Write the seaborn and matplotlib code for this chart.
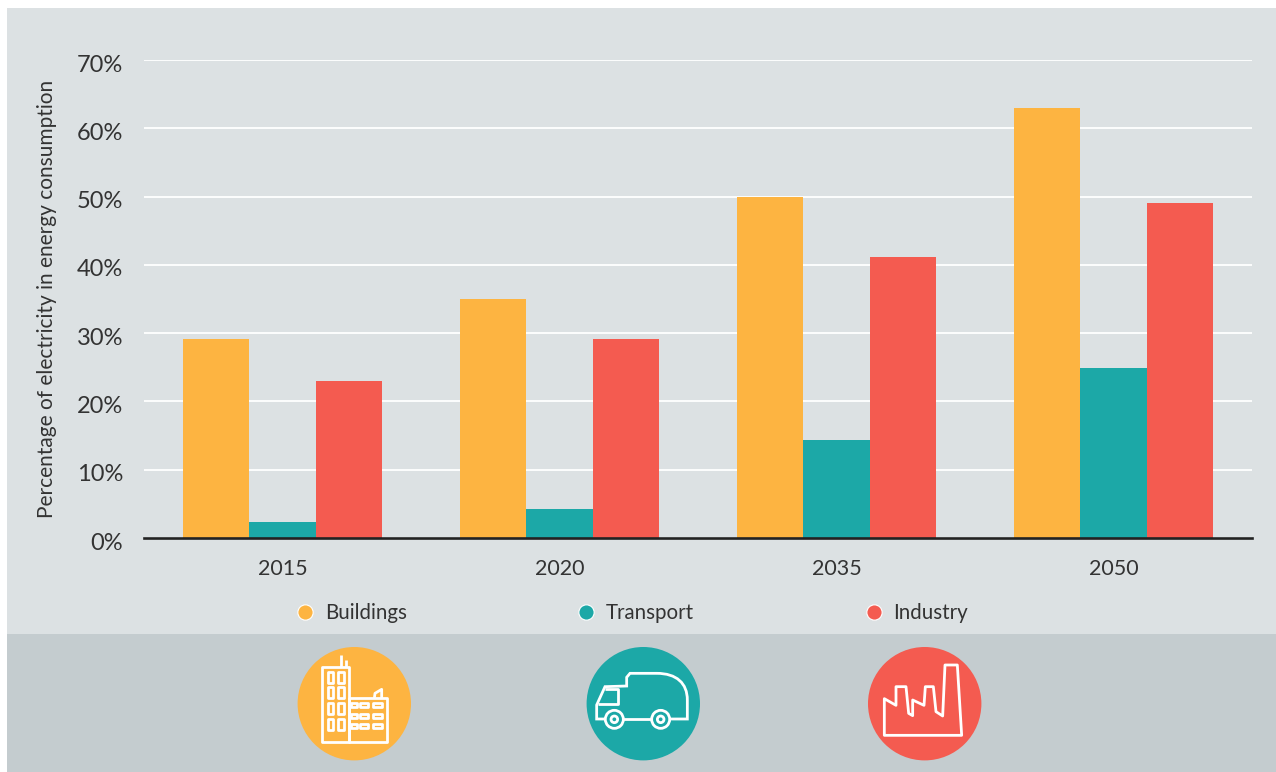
import numpy as np
import pandas as pd
import seaborn as sns
import matplotlib.pyplot as plt
from matplotlib.lines import Line2D
from matplotlib.patches import Circle, Polygon, Rectangle, PathPatch
from matplotlib.path import Path
from matplotlib.transforms import ScaledTranslation

years = ['2015', '2020', '2035', '2050']
buildings = [29.1, 35, 50, 63]
transport = [2.3, 4.2, 14.3, 24.9]
industry = [23, 29.1, 41.1, 49]
sectors = ['Buildings', 'Transport', 'Industry']
colors = ['#FDB441', '#1CA8A7', '#F45B50']
yticks = [0, 10, 20, 30, 40, 50, 60, 70]

sns.set_theme(style='white')
plt.rcParams['font.family'] = ['Lato', 'DejaVu Sans']
text_col = '#333333'
W, H = 1276, 772

data = pd.DataFrame({'year': years * 3,
                     'sector': np.repeat(sectors, 4),
                     'value': buildings + transport + industry})

fig = plt.figure(figsize=(W / 100, H / 100), dpi=100, facecolor='white')

# background panels + icons live on a full figure axes in pixel coords
bg = fig.add_axes([0, 0, 1, 1], zorder=0)
bg.set_xlim(0, W)
bg.set_ylim(H, 0)
bg.axis('off')
bg.add_patch(Rectangle((7, 8), W - 7, 626, fc='#DCE1E3', ec='none'))
bg.add_patch(Rectangle((7, 634), W - 7, 138, fc='#C4CCCF', ec='none'))

# main chart
ax = fig.add_axes([144 / W, 1 - 538 / H, (1252 - 144) / W, (538 - 60) / H], zorder=1)
ax.patch.set_alpha(0)
sns.barplot(data=data, x='year', y='value', hue='sector', palette=colors,
            width=0.722, gap=0, saturation=1, legend=False, ax=ax, zorder=3,
            linewidth=0, edgecolor='none')
ax.set_xlim(-0.5, 3.5)
ax.set_ylim(0, 70)
ax.set_yticks(yticks)
ax.set_yticklabels([str(t) + '%' for t in yticks])
ax.set_xlabel('')
ax.set_ylabel('Percentage of electricity in energy consumption', fontsize=15,
              color=text_col, labelpad=14)
ax.tick_params(axis='y', length=0, pad=15, labelsize=17, labelcolor=text_col)
ax.tick_params(axis='x', length=0, pad=15, labelsize=15.5, labelcolor=text_col)
# percent labels sit a little under their gridlines
shift = ScaledTranslation(0, -3 / 100, fig.dpi_scale_trans)
for lab in ax.get_yticklabels():
    lab.set_transform(lab.get_transform() + shift)
ax.grid(axis='y', color='white', lw=1.3, zorder=1)
ax.set_axisbelow(True)
for s in ['top', 'right', 'left']:
    ax.spines[s].set_visible(False)
ax.spines['bottom'].set_color('#222222')
ax.spines['bottom'].set_linewidth(1.9)
ax.spines['bottom'].set_zorder(5)

handles = [Line2D([], [], ls='none', marker='o', ms=11, mfc=c, mec='white', mew=0.8)
           for c in colors]
ax.legend(handles, sectors, ncol=3, frameon=False, fontsize=14.8, labelcolor=text_col,
          loc='center', bbox_to_anchor=(629 / W, 1 - 613 / H), bbox_transform=fig.transFigure,
          columnspacing=8.0, handletextpad=0.2, handlelength=1.5)


def z1(pts):
    return [(280 + x / 3, 590 + y / 3) for x, y in pts]


def z2(pts):
    return [(850 + x / 3, 630 + y / 3) for x, y in pts]


def outline(pts, closed=True):
    bg.add_patch(Polygon(pts, closed=closed, fc='none', ec='white', lw=2, joinstyle='round'))


def box(x0, y0, x1, y1, conv=z1):
    outline(conv([(x0, y0), (x1, y0), (x1, y1), (x0, y1)]))


for cx, c in zip([354.3, 643.3, 924.7], colors):
    bg.add_patch(Circle((cx, 703.7), 56.7, fc=c, ec='none'))

# building
box(127, 232, 207, 455)
box(207, 325, 321, 455)
outline(z1([(183, 195), (183, 232)]), closed=False)
outline(z1([(197, 210), (197, 232)]), closed=False)
outline(z1([(283, 325), (285, 310), (305, 298), (305, 325)]), closed=False)
for wy in [(245, 278), (292, 325), (340, 373), (387, 420)]:
    box(143, wy[0], 160, wy[1])
    box(173, wy[0], 192, wy[1])
for wy in [(340, 352), (372, 384), (402, 414)]:
    box(212, wy[0], 230, wy[1])
    box(240, wy[0], 265, wy[1])
    box(278, wy[0], 305, wy[1])

# truck
body = z1([(975, 387), (950, 387), (950, 345), (975, 290), (1040, 288), (1040, 262),
           (1050, 250), (1130, 250), (1190, 250), (1222, 280), (1222, 330), (1222, 387), (1170, 387)])
codes = [Path.MOVETO] + [Path.LINETO] * 7 + [Path.CURVE4, Path.CURVE4, Path.CURVE4, Path.LINETO, Path.LINETO]
bg.add_patch(PathPatch(Path(body, codes), fc='none', ec='white', lw=2))
outline(z1([(1030, 387), (1115, 387)]), closed=False)
outline(z1([(975, 298), (1013, 298), (1013, 342), (955, 342)]), closed=False)
for wx in [1003, 1142]:
    (cx, cy), = z1([(wx, 388)])
    bg.add_patch(Circle((cx, cy), 9, fc='none', ec='white', lw=2))
    bg.add_patch(Circle((cx, cy), 3.3, fc='none', ec='white', lw=2))

# factory
outline(z2([(103, 316), (103, 206), (138, 226), (138, 170), (168, 170), (176, 250), (188, 257),
            (188, 210), (222, 226), (226, 170), (250, 170), (258, 245), (278, 258), (285, 105),
            (322, 105), (335, 316)]))

fig.savefig('out.png', dpi=100, facecolor='white')
